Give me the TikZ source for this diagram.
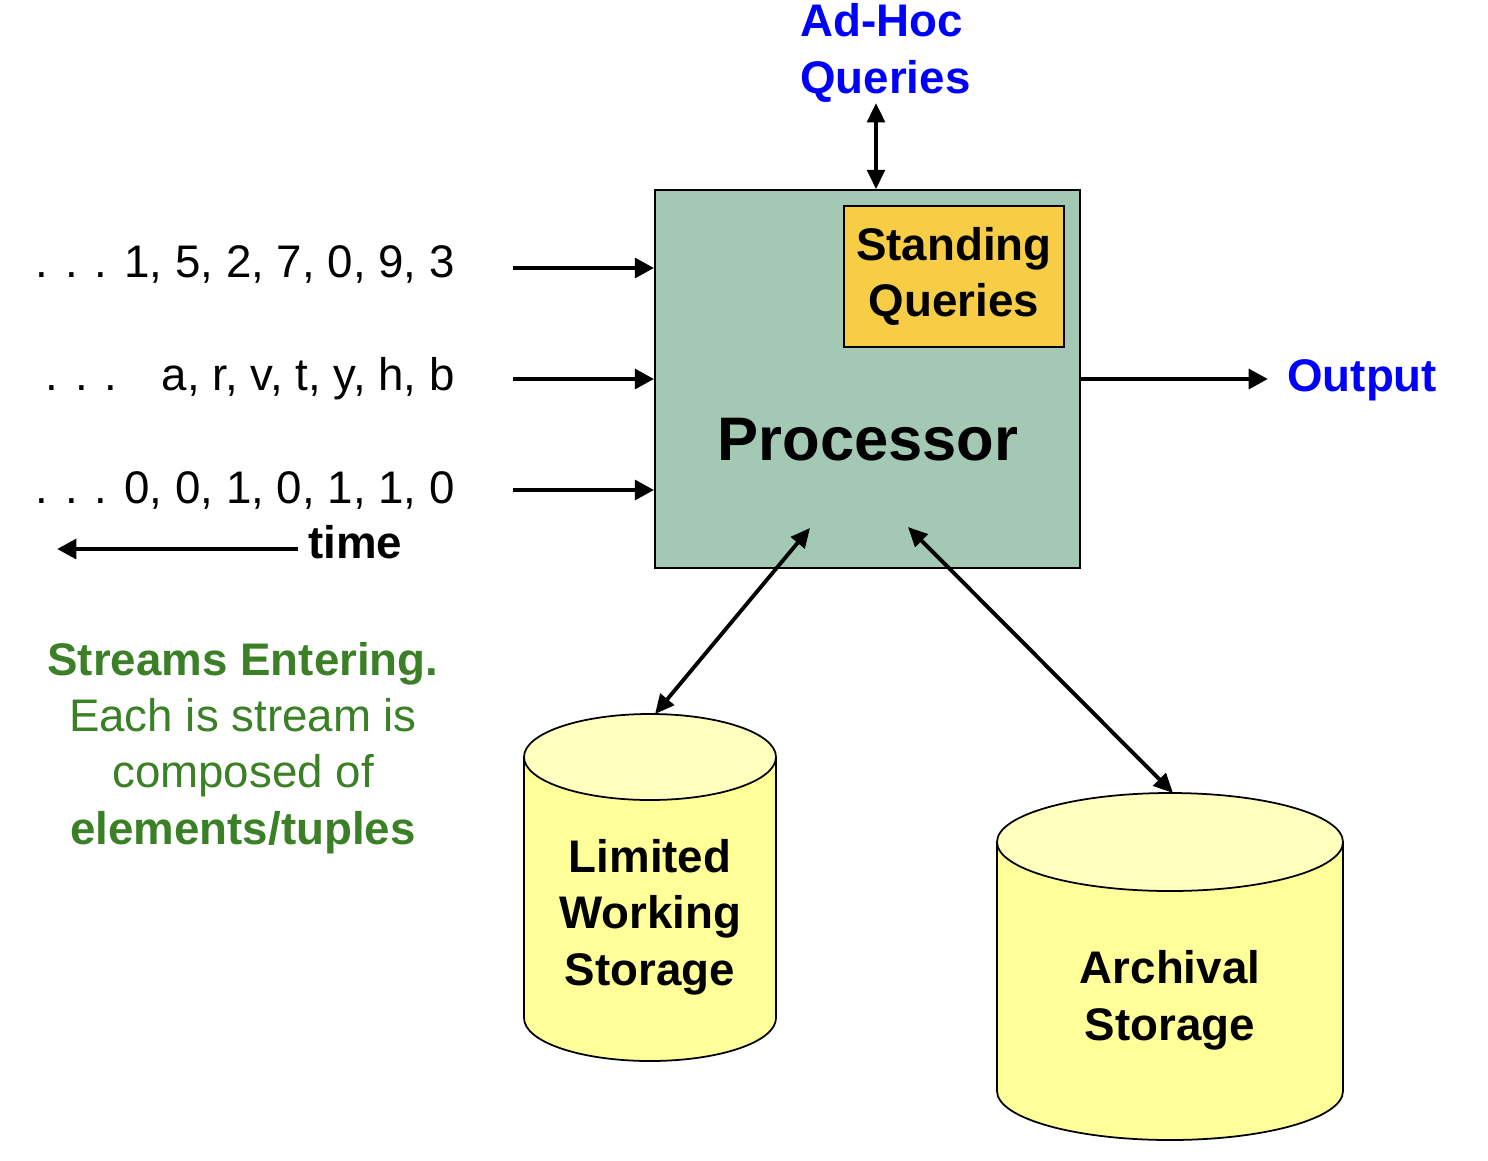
\documentclass[tikz,border=0pt]{standalone}
\usepackage{fontspec}
\setmainfont{Liberation Sans}
\usetikzlibrary{arrows.meta,positioning}
\definecolor{procgreen}{HTML}{A3C9B4}
\definecolor{sqyellow}{HTML}{F6CD45}
\definecolor{cylbody}{HTML}{FFFF99}
\definecolor{cyltop}{HTML}{FFFFBE}
\definecolor{qblue}{HTML}{0000FF}
\definecolor{streamgreen}{HTML}{3B8026}

\begin{document}
\begin{tikzpicture}[
            x=0.02cm, y=-0.02cm,
            every node/.style={inner sep=0pt, font=\fontsize{26}{32}\selectfont},
            bold/.style={font=\bfseries\fontsize{26}{32}\selectfont},
            arr/.style={-{Triangle[length=11pt,width=11pt]}, line width=2.8pt},
            dblarr/.style={{Triangle[length=11pt,width=10pt]}-{Triangle[length=11pt,width=10pt]}, line width=2.2pt},
            box/.style={draw, line width=1pt}
          ]
          \useasboundingbox (0,0) rectangle (1488,1160);

          % Processor
          \node[box, fill=procgreen, minimum width=8.5cm, minimum height=7.56cm] (proc) at (867.5,379) {};
          \node[box, bold, fill=sqyellow, align=center, minimum width=4.4cm, minimum height=2.82cm] (sq) at (954,276.5) {Standing\\Queries};
          \node[anchor=base, font=\bfseries\fontsize{35}{42}\selectfont] (proctext) at (868,460) {Processor};

          % Streams
          \node[anchor=base east] (s1) at (455,277) {. . . 1, 5, 2, 7, 0, 9, 3};
          \node[anchor=base east] (s2) at (455,390) {. . . \hspace{0.6em}a, r, v, t, y, h, b};
          \node[anchor=base east] (s3) at (455,503) {. . . 0, 0, 1, 0, 1, 1, 0};
          \coordinate (in1) at (513,268);
          \coordinate (in2) at (513,379);
          \coordinate (in3) at (513,490);
          \draw[arr] (in1) -- (in1 -| proc.west);
          \draw[arr] (in2) -- (in2 -| proc.west);
          \draw[arr] (in3) -- (in3 -| proc.west);

          % time
          \node[bold, anchor=base west] (time) at (308,558) {time};
          \coordinate (tstart) at (298,549);
          \coordinate (tend) at (57,549);
          \draw[arr] (tstart) -- (tend);

          % Queries and output
          \node[bold, text=qblue, align=left, anchor=base west] (adhoc) at (800,93) {Ad-Hoc\\Queries};
          \coordinate (qtop) at (876,103);
          \draw[dblarr] (qtop) -- (qtop |- proc.north);
          \node[bold, text=qblue, anchor=base west] (out) at (1287,391) {Output};
          \coordinate (outend) at ([xshift=-0.38cm]out.west);
          \draw[arr] (proc.east) -- (outend |- proc.east);

          % Storage
          \fill[cylbody] (524,757) -- (524,1018) arc[start angle=180, end angle=0, x radius=126, y radius=43] -- (776,757) -- cycle;
          \draw[line width=1pt] (524,757) -- (524,1018) arc[start angle=180, end angle=0, x radius=126, y radius=43] -- (776,757);
          \draw[line width=1pt, fill=cyltop] (650,757) ellipse[x radius=126, y radius=43];
          \node[bold, align=center, anchor=base] (lws) at (650,985) {Limited\\Working\\Storage};

          \fill[cylbody] (997,842) -- (997,1091) arc[start angle=180, end angle=0, x radius=173, y radius=49] -- (1343,842) -- cycle;
          \draw[line width=1pt] (997,842) -- (997,1091) arc[start angle=180, end angle=0, x radius=173, y radius=49] -- (1343,842);
          \draw[line width=1pt, fill=cyltop] (1170,842) ellipse[x radius=173, y radius=49];
          \node[bold, align=center, anchor=base] (arch) at (1170,1040) {Archival\\Storage};

          \coordinate (p1) at (810,528);
          \coordinate (p2) at (908,527);
          \coordinate (lwstop) at (655,714);
          \coordinate (archtop) at (1173,793);
          \draw[dblarr] (p1) -- (lwstop);
          \draw[dblarr] (p2) -- (archtop);

          % Description
          \node[align=center, anchor=base, text=streamgreen] (desc) at (243,844) {\textbf{Streams Entering.}\\Each is stream is\\composed of\\\textbf{elements/tuples}};

        \end{tikzpicture}
\end{document}
